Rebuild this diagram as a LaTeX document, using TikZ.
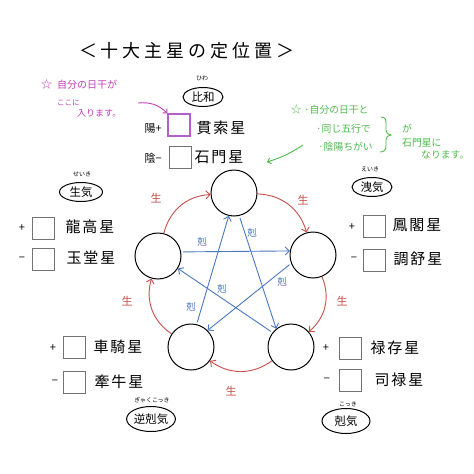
\documentclass[tikz,border=0pt]{standalone}
\usepackage{fontspec}
\setmainfont{Noto Sans CJK JP}
\newfontfamily\widecjk[LetterSpace=12]{Noto Sans CJK JP}
\usetikzlibrary{arrows.meta,shapes.geometric}
\definecolor{seired}{HTML}{C8504A}
\definecolor{kokublue}{HTML}{4A78C0}
\definecolor{notemag}{HTML}{C040B8}
\definecolor{notegreen}{HTML}{4CBB4C}
\definecolor{boxpurple}{HTML}{B060C8}
\newcommand\tch[1]{\makebox[22pt]{#1}}
\begin{document}
\begin{tikzpicture}[x=1pt,y=-1pt,
  circ/.style={circle, draw, line width=1pt, minimum size=46pt, inner sep=0pt},
  sbox/.style={draw=black!55, line width=0.7pt, minimum size=22pt, inner sep=0pt},
  starname/.style={font=\widecjk\fontsize{15}{15}\selectfont, inner sep=0pt},
  pm/.style={font=\fontsize{11}{11}\selectfont, inner sep=0pt},
  grp/.style={ellipse, draw, line width=1pt, inner sep=0pt, font=\fontsize{11.5}{11.5}\selectfont},
  furi/.style={font=\fontsize{6}{6}\selectfont, inner sep=0pt},
  sei/.style={draw=seired, line width=0.9pt, -{Straight Barb[length=4pt,width=8pt]}},
  koku/.style={draw=kokublue, line width=0.9pt, -{Straight Barb[length=4pt,width=8pt]}, shorten <=2pt},
  seil/.style={text=seired, font=\fontsize{11}{11}\selectfont, inner sep=0pt},
  kokul/.style={text=kokublue, font=\fontsize{9.5}{9.5}\selectfont, inner sep=0pt},
  magtxt/.style={text=notemag, inner sep=0pt, anchor=west},
  grntxt/.style={text=notegreen, inner sep=0pt, anchor=west, font=\fontsize{9.8}{9.8}\selectfont}
]
\fill[white] (0,0) rectangle (474,474);
\useasboundingbox (0,0) rectangle (474,474);

% title
\node[inner sep=0pt, font=\fontsize{18}{18}\selectfont] (title) at (187,51)
  {\tch{＜}\tch{十}\tch{大}\tch{主}\tch{星}\tch{の}\tch{定}\tch{位}\tch{置}\tch{＞}};

% five circles
\node[circ] (top) at (234,193) {};
\node[circ] (right) at (313,255) {};
\node[circ] (br) at (291,347) {};
\node[circ] (bl) at (191,347) {};
\node[circ] (left) at (158,256) {};

% red (sei) arcs
\draw[sei] (top) to[bend left=36] (right);
\draw[sei] (right) to[bend left=36] (br);
\draw[sei] (br) to[bend left=36] (bl);
\draw[sei] (bl) to[bend left=36] (left);
\draw[sei] (left) to[bend left=36] (top);
\node[seil] (s1) at (156,198) {生};
\node[seil] (s2) at (303,200) {生};
\node[seil] (s3) at (342,301) {生};
\node[seil] (s4) at (127,301) {生};
\node[seil] (s5) at (231,391) {生};

% blue (koku) arrows
\draw[koku] (left.10) -- (right.170);
\draw[koku] (top.-77) -- (br.129);
\draw[koku] (right.201) -- (bl.45);
\draw[koku] (br.142) -- (left.-32);
\draw[koku] (bl.76) -- (top.257);
\node[kokul] (k1) at (202,242) {剋};
\node[kokul] (k2) at (252,233) {剋};
\node[kokul] (k3) at (282,282) {剋};
\node[kokul] (k4) at (222,289) {剋};
\node[kokul] (k5) at (191,307) {剋};

% group ellipses
\node[grp, minimum width=40pt, minimum height=19pt] (hiwa) at (203,97) {比和};
\node[furi] (hiwaf) at (202,78) {ひわ};
\node[grp, minimum width=43pt, minimum height=19pt] (seiki) at (81,192) {生気};
\node[furi] (seikif) at (82,174) {せいき};
\node[grp, minimum width=40pt, minimum height=19pt] (eiki) at (372,187) {洩気};
\node[furi] (eikif) at (370,169) {えいき};
\node[grp, minimum width=48pt, minimum height=25pt] (gyaku) at (151,419) {逆剋気};
\node[furi] (gyakuf) at (152,400) {ぎゃくこっき};
\node[grp, minimum width=48pt, minimum height=25pt] (kokki) at (346,421) {剋気};
\node[furi] (kokkif) at (348,404) {こっき};

% top rows
\node[sbox, draw=boxpurple, line width=1.3pt] (kanbox) at (179,125) {};
\node[sbox] (sekibox) at (180,157) {};
\node[pm, anchor=east] (yo) at (162,129) {陽+};
\node[pm, anchor=east] (in) at (162,158) {陰−};
\node[starname] (kan) at (221,128) {貫索星};
\node[starname] (seki) at (219,157) {石門星};

% left rows
\node[sbox] (ryubox) at (43,228) {};
\node[sbox] (gyokubox) at (43,259) {};
\node[pm] (p1) at (22,228) {+};
\node[pm] (m1) at (22,259) {−};
\node[starname] (ryu) at (90,227) {龍高星};
\node[starname] (gyoku) at (91,258) {玉堂星};

% right rows
\node[sbox] (hobox) at (374,226) {};
\node[sbox] (chobox) at (374,260) {};
\node[pm] (p2) at (352,227) {+};
\node[pm] (m2) at (354,259) {−};
\node[starname] (ho) at (417,225) {鳳閣星};
\node[starname] (cho) at (418,259) {調舒星};

% bottom-left rows
\node[sbox] (shabox) at (74,347) {};
\node[sbox] (gyubox) at (74,382) {};
\node[pm] (p3) at (53,348) {+};
\node[pm] (m3) at (55,382) {−};
\node[starname] (sha) at (118,347) {車騎星};
\node[starname] (gyu) at (119,382) {牽牛星};

% bottom-right rows
\node[sbox] (rokubox) at (350,348) {};
\node[sbox] (shirokubox) at (350,380) {};
\node[pm] (p4) at (326,348) {+};
\node[pm] (m4) at (327,380) {−};
\node[starname] (roku) at (395,348) {禄存星};
\node[starname] (shiroku) at (399,380) {司禄星};

% magenta note
\node[magtxt, font=\fontsize{11}{11}\selectfont] (mstar) at (41,84) {☆};
\node[magtxt, font=\fontsize{10}{10}\selectfont] (m1t) at (57,85) {自分の日干が};
\node[magtxt, font=\fontsize{7.5}{7.5}\selectfont] (m2t) at (57,103) {ここに};
\node[magtxt, font=\fontsize{9}{9}\selectfont] (m3t) at (77,113) {入ります。};
\coordinate (mstart) at (138,103);
\draw[notemag, line width=0.9pt, -{Straight Barb[length=3pt,width=6pt]}] (mstart) to[bend left=25] (kanbox.north west);

% green note
\node[grntxt, font=\fontsize{10.5}{10.5}\selectfont] (gstar) at (291,110) {☆};
\node[grntxt] (g1) at (304,110) {·自分の日干と};
\node[grntxt] (g2) at (316,129) {·同じ五行で};
\node[grntxt] (g3) at (318,147) {·陰陽ちがい};
\draw[notegreen, line width=0.9pt]
  (381,117) .. controls (386,117) and (386,120) .. (386,125)
  -- (386,130) .. controls (386,133) and (388,135) .. (391,135)
  .. controls (388,135) and (386,137) .. (386,140)
  -- (386,146) .. controls (386,150) and (384,152) .. (380,152);
\node[grntxt] (g4) at (402,129) {が};
\node[grntxt] (g5) at (402,143) {石門星に};
\node[grntxt] (g6) at (421,155) {なります。};
\coordinate (gstart) at (303,145);
\coordinate (gend) at (267,162);
\draw[notegreen, line width=0.9pt, -{Straight Barb[length=3pt,width=6pt]}] (gstart) to[bend left=8] (gend);
\end{tikzpicture}
\end{document}
